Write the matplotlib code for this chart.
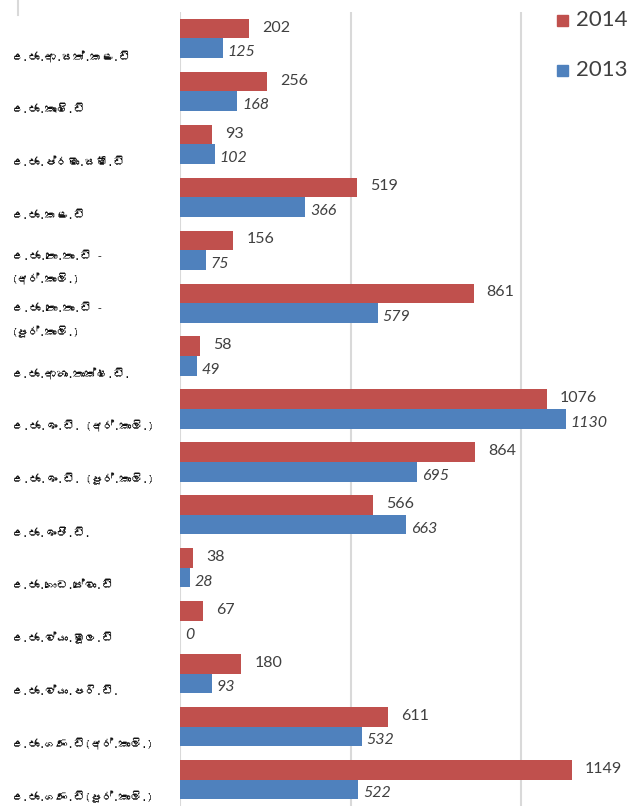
import matplotlib
matplotlib.use("Agg")
import matplotlib.pyplot as plt
from matplotlib import font_manager as fm
from matplotlib.ft2font import FT2Font
from matplotlib.transforms import blended_transform_factory
from matplotlib.patches import Rectangle
from matplotlib.lines import Line2D

categories = [
    "උ.ජා.ආ.සත්.කළ.ඩි",
    "උ.ජා.කෘෂි.ඩි",
    "උ.ජා.ප්රමා.සමී.ඩි",
    "උ.ජා.කළ.ඩි",
    "උ.ජා.තො.තා.ඩි -\n(අර්.කාලි.)",
    "උ.ජා.තො.තා.ඩි -\n(පූර්.කාලි.)",
    "උ.ජා.ආහා.තාක්ෂ.ඩි.",
    "උ.ජා.ඉං.ඩි. (අර්.කාලි.)",
    "උ.ජා.ඉං.ඩි. (පූර්.කාලි.)",
    "උ.ජා.ඉංජි.ඩි.",
    "උ.ජා.ගොඩ.සේවා.ඩි",
    "උ.ජා.ව්යා.මූල.ඩි",
    "උ.ජා.ව්යා.පරි.ඩි.",
    "උ.ජා.ගණ.ඩි(අර්.කාලි.)",
    "උ.ජා.ගණ.ඩි(පූර්.කාලි.)",
]
values_2014 = [202, 256, 93, 519, 156, 861, 58, 1076, 864, 566, 38, 67, 180, 611, 1149]
values_2013 = [125, 168, 102, 366, 75, 579, 49, 1130, 695, 663, 28, 0, 93, 532, 522]
series_names = ["2014", "2013"]

RED = "#C0504D"
BLUE = "#4F81BD"
GRID = "#D9D9D9"
TXT = "#404040"

# find a font with Sinhala glyphs, if any
def find_font(ch):
    seen = set()
    for f in fm.fontManager.ttflist:
        if f.fname in seen:
            continue
        seen.add(f.fname)
        try:
            if ord(ch) in FT2Font(f.fname).get_charmap():
                return f.name
        except Exception:
            pass
    return None

sin_font = find_font("ජ")
label_family = [sin_font, "DejaVu Sans"] if sin_font else ["DejaVu Sans"]
num_family = ["Lato", "DejaVu Sans"]

W, H = 637, 810
fig = plt.figure(figsize=(W / 100, H / 100), dpi=100)
left = 180 / W
ax = fig.add_axes([left, 1 - 806 / H, 1 - left, (806 - 12) / H])

n = len(categories)
ys = list(range(n))
bh = 0.37
ax.barh([y - bh / 2 for y in ys], values_2014, height=bh, color=RED, zorder=3)
ax.barh([y + bh / 2 for y in ys], values_2013, height=bh, color=BLUE, zorder=3)

xmax = (W - 180) / (392 / 1149)
ax.set_xlim(0, xmax)
ax.set_ylim(n - 0.5, -0.5)
for gx in [0, 500, 1000]:
    ax.axvline(gx, color=GRID, lw=1.5, zorder=1)
for s in ax.spines.values():
    s.set_visible(False)
ax.set_xticks([])
ax.set_yticks([])

for y, v in zip(ys, values_2014):
    ax.annotate(str(v), (v, y - bh / 2), xytext=(13, 1), textcoords="offset pixels",
                ha="left", va="center", fontsize=11.5, color=TXT, family=num_family)
for y, v in zip(ys, values_2013):
    ax.annotate(str(v), (v, y + bh / 2), xytext=(5, -4), textcoords="offset pixels",
                ha="left", va="center", fontsize=11.5, color=TXT, style="italic",
                family=num_family)

tr = blended_transform_factory(fig.transFigure, ax.transData)
for y, c in zip(ys, categories):
    ax.text(12 / W, y + 0.33, c, transform=tr, ha="left", va="center",
            fontsize=8.2, color="#111111", family=label_family, linespacing=2.2,
            clip_on=False)

# legend (manual)
for i, (name, col) in enumerate(zip(series_names, [RED, BLUE])):
    yc = 20 + i * 50
    fig.add_artist(Rectangle((557 / W, 1 - (yc + 6) / H), 11 / W, 11 / H,
                             transform=fig.transFigure, color=col))
    fig.text(576 / W, 1 - yc / H, name, ha="left", va="center", fontsize=16,
             color=TXT, family=num_family)

fig.add_artist(Line2D([18 / W, 18 / W], [1, 1 - 15 / H], transform=fig.transFigure,
                      color=GRID, lw=1.5))

fig.savefig("out.png", dpi=100)
